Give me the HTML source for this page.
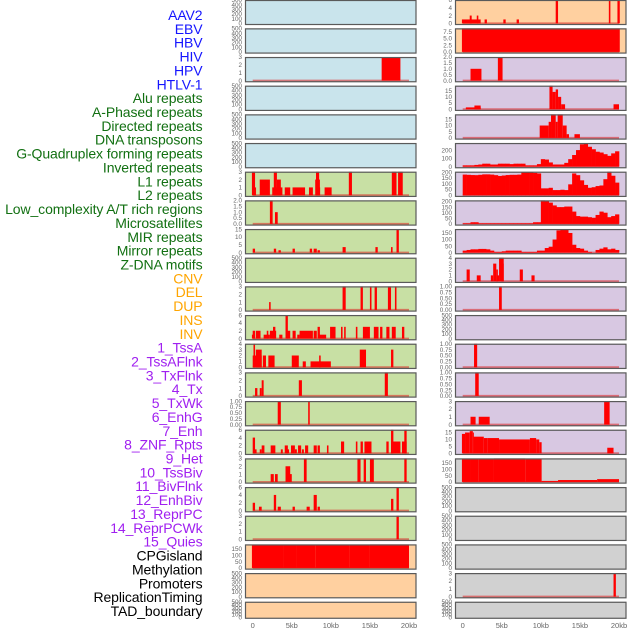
<!DOCTYPE html>
<html><head><meta charset="utf-8"><style>
html,body{margin:0;padding:0;background:#fff;}
svg{display:block;font-family:"Liberation Sans",sans-serif;}
</style></head><body>
<svg id="chart" width="630" height="630" viewBox="0 0 630 630" xmlns="http://www.w3.org/2000/svg"></svg>
<script>
const labels = ["AAV2","EBV","HBV","HIV","HPV","HTLV-1","Alu repeats","A-Phased repeats","Directed repeats","DNA transposons","G-Quadruplex forming repeats","Inverted repeats","L1 repeats","L2 repeats","Low_complexity A/T rich regions","Microsatellites","MIR repeats","Mirror repeats","Z-DNA motifs","CNV","DEL","DUP","INS","INV","1_TssA","2_TssAFlnk","3_TxFlnk","4_Tx","5_TxWk","6_EnhG","7_Enh","8_ZNF_Rpts","9_Het","10_TssBiv","11_BivFlnk","12_EnhBiv","13_ReprPC","14_ReprPCWk","15_Quies","CPGisland","Methylation","Promoters","ReplicationTiming","TAD_boundary"];
const labelColors = ["#1515ff","#1515ff","#1515ff","#1515ff","#1515ff","#1515ff","#127012","#127012","#127012","#127012","#127012","#127012","#127012","#127012","#127012","#127012","#127012","#127012","#127012","#ffa500","#ffa500","#ffa500","#ffa500","#ffa500","#a020f0","#a020f0","#a020f0","#a020f0","#a020f0","#a020f0","#a020f0","#a020f0","#a020f0","#a020f0","#a020f0","#a020f0","#a020f0","#a020f0","#a020f0","#000","#000","#000","#000","#000"];
const xTicks = [0,5,10,15,20];
const xTickLabels = ["0","5kb","10kb","15kb","20kb"];
const EMPTY = ["0","100","200","300","400","500"];
const L01 = [], L02 = [];
const L03 = [[16.5,18.9,3]];
const L04 = [], L05 = [], L06 = [];
const L07 = [[-0.1,0.3,3],[0.3,0.4,1],[0.9,2.2,2],[2.5,3.8,1],[2.7,3.1,3],[3.1,3.6,2],[4.1,4.8,1],[5.1,6.7,1],[7.2,7.7,1],[8.0,8.6,2],[8.1,8.5,3],[8.5,8.6,1],[9.2,10.1,1],[12.3,12.7,3],[17.8,18.4,3],[18.6,19.2,3]];
const L08 = [[2.2,2.55,2],[2.85,3.2,1]];
const L09 = [[0,0.3,2.5],[2.7,3.0,2.5],[3.3,3.6,1.5],[5.1,5.4,2.5],[7.3,7.6,2.5],[7.8,8.2,2.5],[8.3,8.6,1.5],[11.5,11.9,3.5],[15.7,16.0,3.5],[17.7,17.9,3.5],[18.4,18.7,15]];
const L10 = [];
const L11 = [[2.1,2.3,1],[11.5,11.9,3],[13.8,14.1,3],[15.0,15.2,3],[15.6,15.9,3],[17.3,17.7,3],[18.2,18.4,3]];
const L12 = [[-0.1,0.3,1],[0,0.3,2],[0.4,1.0,2],[1.4,2.2,1],[1.8,2.0,2],[2.2,3.0,2],[2.6,2.9,3],[3.4,3.8,1],[4.2,4.5,6],[4.4,4.8,2],[5.1,5.5,2],[5.7,6.0,1],[6.0,7.7,2],[7.8,8.2,2],[8.3,8.6,3],[8.5,9.4,1],[9.9,10.6,3],[11.3,11.5,3],[11.7,11.9,3],[13.2,13.4,3],[14.1,15.0,3],[15.5,16.1,3],[16.3,16.6,3],[17.1,17.5,3],[17.8,18.3,3],[19.1,19.4,3]];
const L13 = [[0,1.15,2],[0.1,0.3,4],[0.4,1.15,3],[1.3,1.7,2],[2.0,2.8,2],[5.0,5.9,2],[6.4,6.8,1],[7.4,10.0,1],[8.5,8.7,2],[13.7,14.5,3],[17.7,18.0,3]];
const L14 = [[0.3,0.6,1],[0.9,1.15,1],[1.15,1.4,2],[5.9,6.3,2],[16.9,17.3,3]];
const L15 = [[3.2,3.6,1],[7.1,7.3,1]];
const L16 = [[0,0.3,4],[0.2,0.5,1],[0.9,1.15,1],[1.15,1.5,2],[2.3,2.9,2],[3.6,3.85,1],[4.1,4.5,2],[4.3,4.65,1],[4.9,5.4,2],[5.4,5.65,1],[5.8,6.2,2],[6.3,6.55,1],[6.7,7.1,2],[7.8,8.2,2],[8.3,8.6,2],[9.5,9.7,2],[11.3,11.7,3],[13.2,13.4,3],[13.8,14.1,3],[14.3,15.2,3],[17.1,17.4,3],[17.7,18.0,6],[17.7,18.9,3],[19.1,19.7,3],[19.4,19.7,6]];
const L17 = [[2.3,2.7,1],[2.85,3.2,1],[4.2,4.8,2],[4.6,5.0,1],[6.55,6.9,3],[13.4,13.8,3],[14.2,14.5,3],[15.0,15.5,3],[19.4,19.7,3]];
const L18 = [[0,0.3,2],[0.8,1.15,1],[2.7,3.0,4],[3.2,3.6,1],[5.1,5.4,1],[6.9,7.3,1],[7.8,8.2,4],[8.3,8.6,1],[17.7,18.0,3],[18.4,18.7,6]];
const L19 = [[18.4,18.7,3]];
const L20 = [[-0.1,4.0,182],[4.0,5.6,178],[5.6,8.0,180],[8.0,12.4,182],[12.4,15.0,183],[15.0,20.0,184]];
const L21 = [], L22 = [];
const R01 = [[-0.1,2.3,1],[0.9,1.15,2],[1.8,2.0,2],[2.8,3.1,1],[5.2,5.5,1],[6.9,7.2,1],[11.9,12.2,6],[18.7,18.9,6],[19.8,20.1,6]];
const R02 = [[-0.1,20.1,8.8]];
const R03 = [[1.0,2.4,1],[4.5,5.1,2]];
const R04 = [[0.4,2.3,1.5],[1.5,2.3,3],[11.1,11.5,19],[11.5,11.9,14],[11.9,12.2,16],[12.2,12.6,10],[12.6,13.1,4],[19.3,20.0,4]];
const R05 = [[9.85,11.0,10],[11.0,11.3,13],[11.3,11.9,19],[11.9,12.15,13],[12.15,12.8,19],[12.8,13.3,10],[13.3,13.6,3],[14.3,15.0,3]];
const R06 = [15,15,15,20,25,35,35,25,25,35,35,35,30,35,35,35,15,15,15,30,90,85,50,25,25,25,45,90,140,200,270,280,240,210,180,170,150,130,160,185];
const R07 = [180,178,176,175,178,182,182,180,175,168,172,176,178,178,180,200,200,198,195,190,60,60,65,45,45,48,45,95,190,175,130,90,65,70,80,85,140,205,170,110];
const R08 = [5,5,15,15,5,5,5,5,5,5,5,5,5,5,5,5,5,5,15,15,210,205,190,165,150,150,155,155,110,70,65,65,60,55,80,110,100,60,70,85];
const R09 = [15,20,25,25,28,28,25,15,5,5,10,15,15,15,15,5,5,5,5,15,15,35,45,100,170,180,180,150,60,35,30,15,5,0,20,30,40,25,30,20];
const R10 = [[0.5,0.9,2],[1.8,2.3,1],[3.6,3.9,1],[3.9,4.3,3],[4.3,4.5,2],[4.3,4.65,1],[4.65,5.25,4],[4.95,5.25,3],[7.3,7.7,2],[8.8,9.2,1]];
const R11 = [[4.65,5.0,1]];
const R12 = [];
const R13 = [[1.45,1.85,1]];
const R14 = [[1.6,2.05,1]];
const R15 = [[1.0,1.65,1],[2.05,3.45,1],[18.1,18.8,3]];
const R16 = [[-0.1,0.3,14],[0.3,0.9,15],[0.9,1.3,16],[1.3,1.4,15],[1.4,2.7,12],[2.7,3.2,11],[3.2,4.65,11],[4.65,8.6,10],[8.6,9.4,11],[9.4,9.8,10],[9.8,10.1,8],[18.5,19.3,4]];
const R17 = [[-0.1,1.0,182],[1.0,2.0,178],[2.0,4.0,176],[4.0,8.0,184],[8.0,10.1,180],[10.1,12.2,8],[12.2,17.2,15],[17.2,20.0,22]];
const R18 = [], R19 = [], R20 = [];
const R21 = [[19.3,19.6,3]];
const R22 = [];

const leftData = [L01,L02,L03,L04,L05,L06,L07,L08,L09,L10,L11,L12,L13,L14,L15,L16,L17,L18,L19,L20,L21,L22];
const rightData = [R01,R02,R03,R04,R05,R06,R07,R08,R09,R10,R11,R12,R13,R14,R15,R16,R17,R18,R19,R20,R21,R22];
const leftMax = [500,500,3,500,500,500,3,2,15,500,3,6,4,3,1,6,3,6,3,184,500,500];
const rightMax = [6,8.8,2,19,19,285,205,210,180,4,1,500,1,1,3,17,184,500,500,500,3,500];
const T3=["0","1","2","3"], T6=["0","2","4","6"], T1=["0.00","0.25","0.50","0.75","1.00"], T15=["0","5","10","15"], T150=["0","50","100","150"];
const leftTicks = [EMPTY,EMPTY,T3,EMPTY,EMPTY,EMPTY,T3,["0.0","0.5","1.0","1.5","2.0"],T15,EMPTY,T3,T6,["0","1","2","3","4"],T3,T1,T6,T3,T6,T3,T150,EMPTY,EMPTY];
const rightTicks = [T6,["0.0","2.5","5.0","7.5"],["0.0","0.5","1.0","1.5","2.0"],T15,T15,["0","100","200"],["0","50","100","150","200"],["0","50","100","150","200"],T150,["0","1","2","3","4"],T1,EMPTY,T1,T1,T3,T15,T150,EMPTY,EMPTY,EMPTY,T3,EMPTY];
const leftBg = ["#c9e4ec","#c9e4ec","#c9e4ec","#c9e4ec","#c9e4ec","#c9e4ec","#c8e0a4","#c8e0a4","#c8e0a4","#c8e0a4","#c8e0a4","#c8e0a4","#c8e0a4","#c8e0a4","#c8e0a4","#c8e0a4","#c8e0a4","#c8e0a4","#c8e0a4","#ffd0a0","#ffd0a0","#ffd0a0"];
const rightBg = ["#ffd0a0","#ffd0a0","#d8c8e2","#d8c8e2","#d8c8e2","#d8c8e2","#d8c8e2","#d8c8e2","#d8c8e2","#d8c8e2","#d8c8e2","#d8c8e2","#d8c8e2","#d8c8e2","#d8c8e2","#d8c8e2","#d1d1d1","#d1d1d1","#d1d1d1","#d1d1d1","#d1d1d1","#d1d1d1"];

const NS = "http://www.w3.org/2000/svg";
const svg = document.getElementById("chart");
function mk(tag, attrs, parent){
  const e = document.createElementNS(NS, tag);
  for (const k in attrs) e.setAttribute(k, attrs[k]);
  (parent||svg).appendChild(e);
  return e;
}
const KB = 7.815;
function xScale(col, kb){ return (col===0 ? 252.7 : 462.7) + kb*KB; }
function panelTop(i){ return Math.max(0, 28.67*i - 0.3); }
function panelH(i){ return i===21 ? 16.5 : (i===0 ? 24.5 : 24.7); }

labels.forEach((t,i)=>{
  const el = mk("text",{x:202.5,y:(20+13.86*i).toFixed(2),"text-anchor":"end","font-size":"14","letter-spacing":"-0.1",fill:labelColors[i]});
  
  
  el.textContent = t;
});

function drawPanel(col, i, data, maxV, ticks, bg){
  const g = mk("g",{});
  
  
  const px = col===0 ? 245.5 : 455.5, pw = 170.5;
  const top = panelTop(i), h = panelH(i);
  const ymin = -0.05*maxV;
  const yScale = v => top + h - (v - ymin)/(maxV - ymin)*h;
  const bgRect = mk("rect",{x:px,y:top,width:pw,height:h,fill:bg},g);
  
  
  const isBins = data.length && typeof data[0] === "number";
  if (data.length){
    const base = mk("line",{x1:xScale(col,0),x2:xScale(col,20),y1:yScale(0),y2:yScale(0),stroke:"#d22",opacity:"0.55","stroke-width":"2"},g);
    
    
  }
  if (isBins){
    data.forEach((v,k)=>{
      const x0 = xScale(col,k*0.5), x1 = xScale(col,(k+1)*0.5);
      const r = mk("rect",{x:x0.toFixed(2),y:yScale(v).toFixed(2),width:(x1-x0+0.3).toFixed(2),height:Math.max(0,yScale(0)-yScale(v)).toFixed(2),fill:"#ff0000"},g);
      
      
    });
  } else {
    data.forEach(s=>{
      const x0 = xScale(col,s[0]), x1 = xScale(col,s[1]);
      const r = mk("rect",{x:x0.toFixed(2),y:yScale(s[2]).toFixed(2),width:Math.max(1,x1-x0).toFixed(2),height:Math.max(0,yScale(0)-yScale(s[2])).toFixed(2),fill:"#ff0000"},g);
      
      
    });
  }
  const frame = mk("rect",{x:px,y:top+0.5,width:pw,height:h-0.5,fill:"none",stroke:"#5a5a5a","stroke-width":"1.2"},g);
  
  
  ticks.forEach(t=>{
    const v = parseFloat(t);
    const y = yScale(v);
    const tl = mk("text",{x:px-3.5,y:(y+2.2).toFixed(2),"text-anchor":"end","font-size":"6.3",fill:"#666"},g);
    
    
    tl.textContent = t;
  });
}
for (let i=0;i<22;i++){
  drawPanel(0,i,leftData[i],leftMax[i],leftTicks[i],leftBg[i]);
  drawPanel(1,i,rightData[i],rightMax[i],rightTicks[i],rightBg[i]);
}
[0,1].forEach(col=>{
  xTicks.forEach((t,k)=>{
    const el = mk("text",{x:xScale(col,t).toFixed(2),y:"628","text-anchor":"middle","font-size":"7.5",fill:"#666"});
    
    
    el.textContent = xTickLabels[k];
  });
});
</script>
</body></html>
